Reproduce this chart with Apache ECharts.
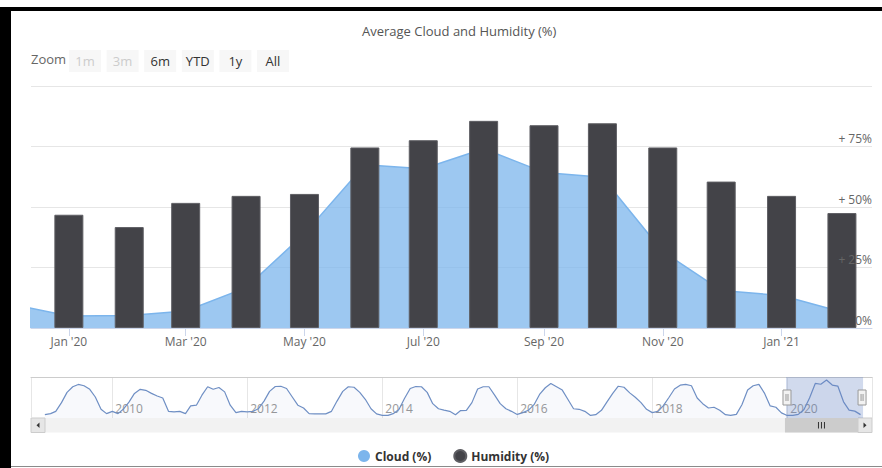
<!DOCTYPE html>
<html>
<head>
<meta charset="utf-8">
<script src="https://cdn.jsdelivr.net/npm/echarts@6/dist/echarts.min.js"></script>
<style>
html,body{margin:0;padding:0;background:#fff;}
#chart{width:882px;height:468px;position:absolute;left:0;top:0;}
.frame{position:absolute;background:#000;}
</style>
</head>
<body>
<div id="chart"></div>
<div class="frame" style="left:0;top:7px;width:882px;height:4px"></div>
<div class="frame" style="left:0;top:7px;width:11px;height:461px"></div>
<div class="frame" style="left:11px;top:466px;width:871px;height:1px;background:#8a8a8a"></div>
<script>
// ---------- data ----------
const chartTitle = 'Average Cloud and Humidity (%)';
const seriesNames = ['Cloud (%)', 'Humidity (%)'];
const monthNames = ['Jan','Feb','Mar','Apr','May','Jun','Jul','Aug','Sep','Oct','Nov','Dec'];

// monthly cloud cover (%), starting Jan 2009
const cloudStart = [2009, 0];
const cloudValues = [
  6.5, 8.5, 13, 30, 50, 61, 65.5, 63, 56, 41, 17, 8.5,        // 2009
  13, 8.5, 17, 31, 48, 56, 54, 48, 43, 39, 13, 12,            // 2010
  13, 8.5, 23.5, 25, 44.5, 61, 56, 59.5, 51, 25, 10.5, 13,    // 2011
  12, 13, 18, 33, 52, 61.5, 62, 57.5, 41, 25, 19.5, 8.5,      // 2012
  8, 8, 8, 13, 33, 52, 61, 60, 50, 36.5, 18, 8,               // 2013
  5, 5, 8.5, 16.5, 38, 57.5, 61.5, 61, 50, 28, 18, 15.5,      // 2014
  13, 6.5, 14.5, 15, 30, 56.5, 61, 61, 44.5, 28, 18, 13,      // 2015
  7, 10.5, 15, 26, 46, 59, 67.5, 61, 54.5, 36.5, 18, 17,      // 2016
  13, 5, 6.5, 15, 31.5, 48, 62, 60, 49, 40.5, 30, 17,         // 2017
  10.5, 13, 23.5, 40, 56.5, 64, 65.5, 63, 39, 28, 19.5, 21,   // 2018
  15, 6.5, 5, 7, 26, 54.5, 63, 65.5, 48, 23.5, 21, 10,        // 2019
  5, 5.2, 7, 16.7, 39, 67.5, 65.8, 74.1, 64.3, 62.3, 31.6, 15.5, // 2020
  13.4, 6.6                                                   // 2021
];

// monthly humidity (%), starting Jan 2020
const humidityStart = [2020, 0];
const humidityValues = [46.8, 41.7, 51.7, 54.6, 55.4, 74.6, 77.6, 85.6, 83.8, 84.6, 74.6, 60.5, 54.6, 47.5];

const yTicks = [0, 25, 50, 75, 100];
const viewRange = ['2019-12-20', '2021-02-09'];
const navigatorRange = ['2008-10-18', '2021-04-04'];
const rangeButtons = ['1m', '3m', '6m', 'YTD', '1y', 'All'];
const disabledButtons = ['1m', '3m'];

// ---------- helpers ----------
function ts(str) { const p = str.split('-').map(Number); return new Date(p[0], p[1] - 1, p[2]).getTime(); }
function monthSeries(start, values) {
  return values.map((v, i) => [new Date(start[0], start[1] + i, 1).getTime(), v]);
}
const cloudData = monthSeries(cloudStart, cloudValues);
const humidityData = monthSeries(humidityStart, humidityValues);
const navMin = ts(navigatorRange[0]), navMax = ts(navigatorRange[1]);
const viewMin = ts(viewRange[0]), viewMax = ts(viewRange[1]);
const FONT = "'Open Sans', 'DejaVu Sans', sans-serif";

const chart = echarts.init(document.getElementById('chart'), null, { renderer: 'svg' });

const buttonGraphics = [];
buttonGraphics.push({ type: 'text', left: 31, top: 52, silent: true,
  style: { text: 'Zoom', fill: '#666', font: '13px ' + FONT } });
rangeButtons.forEach((b, i) => {
  const x = 69 + i * 37.6;
  const disabled = disabledButtons.includes(b);
  buttonGraphics.push({ type: 'rect', shape: { x: x, y: 50, width: 32, height: 22, r: 0 },
    style: { fill: '#f7f7f7' }, silent: true });
  buttonGraphics.push({ type: 'text', x: x + 16, y: 61, silent: true,
    style: { text: b, fill: disabled ? '#cccccc' : '#333', font: '13px ' + FONT, align: 'center', verticalAlign: 'middle' } });
});

const option = {
  animation: false,
  textStyle: { fontFamily: FONT },
  title: { text: chartTitle, left: 357, top: 19,
    textStyle: { fontSize: 13, fontWeight: 'normal', color: '#555', fontFamily: FONT } },
  legend: { data: seriesNames, left: 353, top: 444, icon: 'circle', itemWidth: 12, itemHeight: 12, itemGap: 22,
    textStyle: { fontWeight: 'bold', fontSize: 12, color: '#333', fontFamily: FONT } },
  grid: [
    { left: 31, right: 10, top: 86, height: 242, outerBoundsMode: 'none' },
    { left: 31, right: 10, top: 377, height: 41, outerBoundsMode: 'none' }
  ],
  xAxis: [
    { type: 'time', gridIndex: 0, min: navMin, max: navMax, splitNumber: 5,
      axisLine: { show: true, lineStyle: { color: '#ccd6eb' } },
      axisTick: { show: true, length: 8, lineStyle: { color: '#ccd6eb' } },
      splitLine: { show: false },
      axisLabel: { color: '#666', fontSize: 12, margin: 7, fontFamily: FONT,
        formatter: v => { const d = new Date(v); return monthNames[d.getMonth()] + " '" + String(d.getFullYear()).slice(2); } } },
    { type: 'time', gridIndex: 1, min: navMin, max: navMax, splitNumber: 6,
      axisLine: { show: false }, axisTick: { show: false },
      splitLine: { show: true, lineStyle: { color: '#e6e6e6' } },
      axisLabel: { inside: true, align: 'left', verticalAlign: 'bottom', margin: 4, padding: [0, 0, 0, 3],
        color: '#999', fontSize: 12, fontFamily: FONT, formatter: v => String(new Date(v).getFullYear()) } },
    { type: 'time', gridIndex: 1, position: 'top', min: navMin, max: navMax,
      axisLine: { show: true, lineStyle: { color: '#cccccc' } }, axisTick: { show: false },
      axisLabel: { show: false }, splitLine: { show: false } }
  ],
  yAxis: [
    { type: 'value', gridIndex: 0, position: 'right', min: yTicks[0], max: yTicks[yTicks.length - 1], interval: 25,
      axisLine: { show: false }, axisTick: { show: false }, axisLabel: { show: false },
      splitLine: { lineStyle: { color: '#e6e6e6' } } },
    { type: 'value', gridIndex: 0, position: 'right', min: yTicks[0], max: yTicks[yTicks.length - 1], interval: 25, z: 10,
      axisLine: { show: false }, axisTick: { show: false }, splitLine: { show: false },
      axisLabel: { inside: true, margin: 0, verticalAlign: 'bottom', padding: [0, 0, 2, 0], color: '#666', fontSize: 12, fontFamily: FONT,
        formatter: v => v === 100 ? '' : (v > 0 ? '+ ' : '') + v + '%' } },
    { type: 'value', gridIndex: 1, min: 0, max: 80, show: false }
  ],
  dataZoom: [{
    type: 'slider', xAxisIndex: 0, filterMode: 'none', startValue: viewMin, endValue: viewMax,
    left: 31, right: 10, top: 377, height: 41,
    showDataShadow: false, showDetail: false, brushSelect: false, moveHandleSize: 0,
    backgroundColor: 'transparent', borderColor: 'transparent',
    fillerColor: 'rgba(102,133,194,0.3)',
    handleIcon: 'path://M0,0 L8,0 L8,15 L0,15 Z M3,4 L3,11 M5,4 L5,11',
    handleSize: 15,
    handleStyle: { color: '#f2f2f2', borderColor: '#999', borderWidth: 1 },
    emphasis: { handleStyle: { color: '#f2f2f2', borderColor: '#999' } },
    dataBackground: { lineStyle: { opacity: 0 }, areaStyle: { opacity: 0 } },
    selectedDataBackground: { lineStyle: { opacity: 0 }, areaStyle: { opacity: 0 } },
    textStyle: { color: 'transparent' }
  }],
  series: [
    { name: seriesNames[0], type: 'line', xAxisIndex: 0, yAxisIndex: 0, data: cloudData, z: 2,
      showSymbol: false, symbol: 'none', clip: true,
      lineStyle: { color: '#7cb5ec', width: 1.5 }, itemStyle: { color: '#7cb5ec' },
      areaStyle: { color: 'rgba(124,181,236,0.75)', opacity: 1 } },
    { name: seriesNames[1], type: 'bar', xAxisIndex: 0, yAxisIndex: 0, data: humidityData, z: 3,
      barWidth: 29, clip: true,
      itemStyle: { color: '#434348', borderColor: '#5e5e63', borderWidth: 1 } },
    { name: 'navigator', type: 'line', xAxisIndex: 1, yAxisIndex: 2, data: cloudData,
      showSymbol: false, symbol: 'none', silent: true,
      lineStyle: { color: '#6f8fc4', width: 1.2 }, itemStyle: { color: '#6f8fc4' },
      areaStyle: { color: 'rgba(51,92,173,0.05)' } }
  ],
  graphic: buttonGraphics
};
chart.setOption(option);

// scrollbar under the navigator, positioned through the navigator axis
function drawScrollbar() {
  const g = chart.getModel().getComponent('grid', 1).coordinateSystem.getRect();
  const x0 = g.x, x1 = g.x + g.width, y = g.y + g.height, h = 14.5, bw = 14;
  const s = chart.convertToPixel({ xAxisIndex: 1 }, viewMin);
  const e = chart.convertToPixel({ xAxisIndex: 1 }, viewMax);
  const ts0 = Math.max(x0 + bw, s), ts1 = Math.min(x1 - bw, e);
  const mid = (ts0 + ts1) / 2;
  const els = [
    { type: 'rect', shape: { x: x0, y: y, width: x1 - x0, height: h }, style: { fill: '#f2f2f2' }, silent: true },
    { type: 'rect', shape: { x: ts0, y: y, width: ts1 - ts0, height: h }, style: { fill: '#cccccc' }, silent: true },
    { type: 'rect', shape: { x: x0, y: y, width: bw, height: h }, style: { fill: '#e6e6e6', stroke: '#cccccc', lineWidth: 1 }, silent: true },
    { type: 'rect', shape: { x: x1 - bw, y: y, width: bw, height: h }, style: { fill: '#e6e6e6', stroke: '#cccccc', lineWidth: 1 }, silent: true },
    { type: 'polygon', shape: { points: [[x0 + 8.5, y + 4.5], [x0 + 8.5, y + 10], [x0 + 5.5, y + 7.25]] }, style: { fill: '#333' }, silent: true },
    { type: 'polygon', shape: { points: [[x1 - 8.5, y + 4.5], [x1 - 8.5, y + 10], [x1 - 5.5, y + 7.25]] }, style: { fill: '#333' }, silent: true }
  ];
  [-3, 0, 3].forEach(d => els.push({ type: 'line', shape: { x1: mid + d, y1: y + 4, x2: mid + d, y2: y + 10.5 },
    style: { stroke: '#333', lineWidth: 1 }, silent: true }));
  chart.setOption({ graphic: buttonGraphics.concat(els) });
}
drawScrollbar();
</script>
</body>
</html>
